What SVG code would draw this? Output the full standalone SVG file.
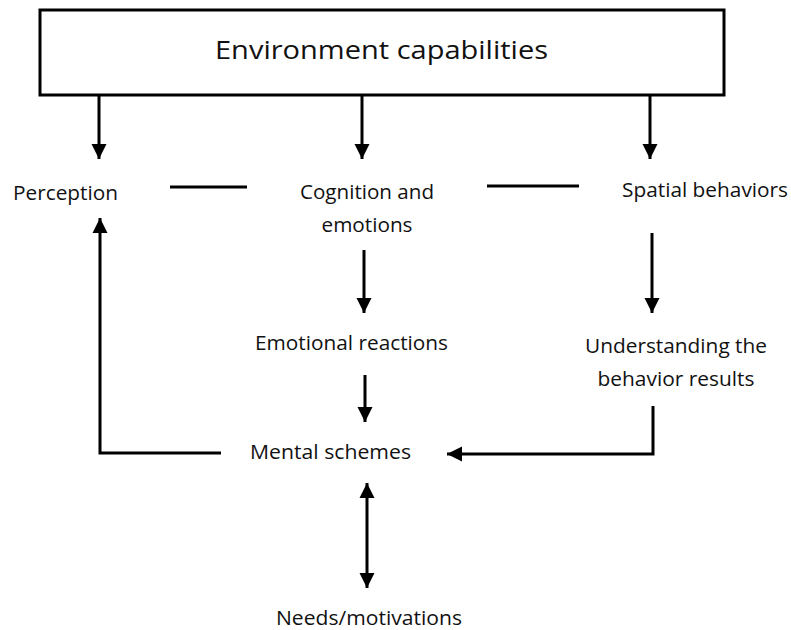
<svg xmlns="http://www.w3.org/2000/svg" width="791" height="630" viewBox="0 0 791 630">
<style>
.t{font-family:"Open Sans","Noto Sans","Liberation Sans",sans-serif;font-size:20.5px;fill:#111}
.title{font-size:26px}
.c{fill:none;stroke:#000;stroke-width:3;stroke-linecap:butt}
</style>
<defs>
<marker id="ah" markerUnits="userSpaceOnUse" markerWidth="16" markerHeight="16" viewBox="0 0 16 16" refX="15" refY="8" orient="auto-start-reverse">
<path d="M0,0.5 L15,8 L0,15.5 Z" fill="#000"/>
</marker>
</defs>
<rect width="791" height="630" fill="#fff"/>
<g id="env">
<rect x="40" y="10" width="684" height="85" fill="#fff" stroke="#000" stroke-width="3"/>
<text class="t title" x="381.5" y="59" text-anchor="middle" textLength="333" lengthAdjust="spacingAndGlyphs">Environment capabilities</text>
</g>
<g id="perception"><text class="t" x="13" y="200" textLength="105" lengthAdjust="spacingAndGlyphs">Perception</text></g>
<g id="cognition">
<text class="t" x="367" y="199" text-anchor="middle" textLength="134" lengthAdjust="spacingAndGlyphs">Cognition and</text>
<text class="t" x="367" y="232" text-anchor="middle" textLength="91" lengthAdjust="spacingAndGlyphs">emotions</text>
</g>
<g id="spatial"><text class="t" x="622" y="197" textLength="166" lengthAdjust="spacingAndGlyphs">Spatial behaviors</text></g>
<g id="emotional"><text class="t" x="255" y="350" textLength="193" lengthAdjust="spacingAndGlyphs">Emotional reactions</text></g>
<g id="understanding">
<text class="t" x="676" y="353" text-anchor="middle" textLength="182" lengthAdjust="spacingAndGlyphs">Understanding the</text>
<text class="t" x="676" y="386" text-anchor="middle" textLength="157" lengthAdjust="spacingAndGlyphs">behavior results</text>
</g>
<g id="mental"><text class="t" x="250" y="459" textLength="161" lengthAdjust="spacingAndGlyphs">Mental schemes</text></g>
<g id="needs"><text class="t" x="276" y="625" textLength="186" lengthAdjust="spacingAndGlyphs">Needs/motivations</text></g>
<g id="connectors">
<line class="c" x1="99" y1="96" x2="99" y2="159" marker-end="url(#ah)"/>
<line class="c" x1="362" y1="96" x2="362" y2="159" marker-end="url(#ah)"/>
<line class="c" x1="650" y1="96" x2="650" y2="159" marker-end="url(#ah)"/>
<line class="c" x1="170" y1="187" x2="247" y2="187"/>
<line class="c" x1="487" y1="186" x2="579" y2="186"/>
<line class="c" x1="364" y1="250" x2="364" y2="313" marker-end="url(#ah)"/>
<line class="c" x1="652" y1="233" x2="652" y2="313" marker-end="url(#ah)"/>
<line class="c" x1="365" y1="375" x2="365" y2="422" marker-end="url(#ah)"/>
<polyline class="c" points="221,453 100,453 100,218" marker-end="url(#ah)"/>
<polyline class="c" points="653,406 653,454 447,454" marker-end="url(#ah)"/>
<line class="c" x1="367" y1="483" x2="367" y2="588" marker-start="url(#ah)" marker-end="url(#ah)"/>
</g>
</svg>
